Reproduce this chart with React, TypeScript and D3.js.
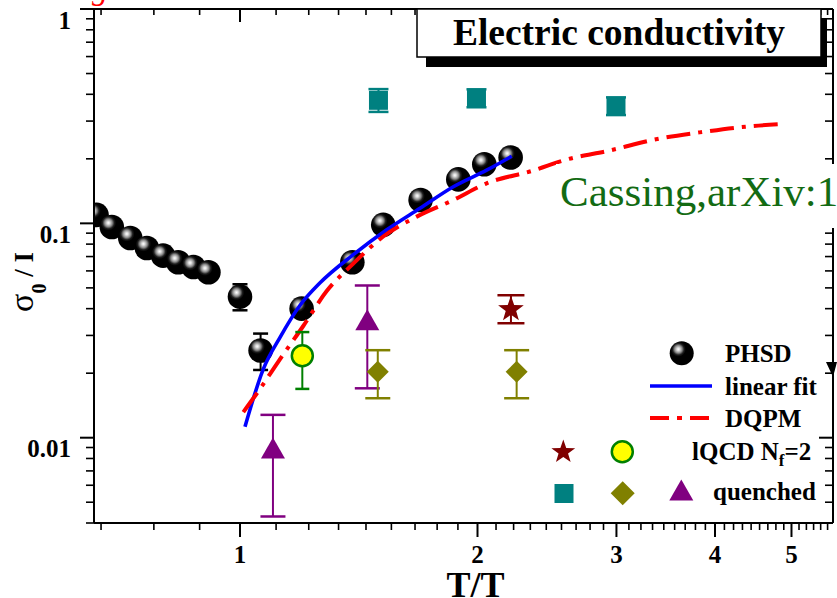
import React from "react";
import * as d3 from "d3";

// ---------- data ----------
// PHSD points: T/Tc and sigma0/T
const phsdT = [0.658, 0.688, 0.726, 0.762, 0.799, 0.835, 0.873, 0.912, 1.0, 1.062, 1.197, 1.388, 1.519, 1.694, 1.891, 2.04, 2.203];
const phsdSigma = [0.1095, 0.0961, 0.0854, 0.0767, 0.0707, 0.0658, 0.0626, 0.0591, 0.0455, 0.0255, 0.04, 0.0658, 0.0984, 0.1285, 0.1603, 0.1888, 0.2028];
const phsdErrLow: (number | null)[] = [null, null, null, null, null, null, null, null, 0.0393, 0.0207, null, null, null, null, null, null, null];
const phsdErrHigh: (number | null)[] = [null, null, null, null, null, null, null, null, 0.052, 0.0306, null, null, null, null, null, null, null];

// linear fit curve
const fitT = [1.0147, 1.0704, 1.124, 1.191, 1.2633, 1.3918, 1.5345, 1.691, 1.8638, 2.054, 2.21];
const fitSigma = [0.01125, 0.0209, 0.0294, 0.0414, 0.0528, 0.0714, 0.0933, 0.1176, 0.1482, 0.177, 0.2056];

// DQPM curve
const dqpmT = [1.0097, 1.0601, 1.118, 1.2028, 1.288, 1.3918, 1.519, 1.675, 1.8638, 2.054, 2.359, 2.582, 2.942, 3.354, 3.861, 4.398, 4.862];
const dqpmSigma = [0.01316, 0.01689, 0.0226, 0.0332, 0.0483, 0.0649, 0.0868, 0.1075, 0.1285, 0.1537, 0.1768, 0.1975, 0.2188, 0.2461, 0.267, 0.2831, 0.2904];

// lQCD Nf=2
const starT = [2.205];
const starSigma = [0.0397];
const starLow = [0.0342];
const starHigh = [0.0462];
const circleT = [1.1995];
const circleSigma = [0.0241];
const circleLow = [0.01689];
const circleHigh = [0.0311];

// quenched
const squareT = [1.498, 1.994, 2.996];
const squareSigma = [0.375, 0.383, 0.352];
const squareLow = [0.331, 0.348, 0.32];
const squareHigh = [0.423, 0.422, 0.387];
const diamondT = [1.495, 2.242];
const diamondSigma = [0.0203, 0.0203];
const diamondLow = [0.01528, 0.01528];
const diamondHigh = [0.0256, 0.0256];
const triangleT = [1.101, 1.45];
const triangleSigma = [0.0088, 0.0349];
const triangleLow = [0.00429, 0.017];
const triangleHigh = [0.01278, 0.0513];

// axes
const xMajorTicks = [1, 2, 3, 4, 5];
const xMajorLabels = ["1", "2", "3", "4", "5"];
const Tc = 180; // MeV, minor ticks every 20 MeV
const xMinorTemps = d3.range(120, 1001, 20).filter((t) => t % 180 !== 0);
const yMajorTicks = [1, 0.1, 0.01];
const yMajorLabels = ["1", "0.1", "0.01"];
const yMinorTicks = [0.9, 0.8, 0.7, 0.6, 0.5, 0.4, 0.3, 0.2, 0.09, 0.08, 0.07, 0.06, 0.05, 0.04, 0.03, 0.02, 0.009, 0.008, 0.007, 0.006, 0.005, 0.004];

const serif = "'Liberation Serif','Times New Roman',Times,serif";

const X0 = 94, X1 = 833, Y0 = 9, Y1 = 523;

function starPath(r: number, ri: number) {
  const pts: string[] = [];
  for (let i = 0; i < 10; i++) {
    const a = -Math.PI / 2 + (i * Math.PI) / 5;
    const rr = i % 2 === 0 ? r : ri;
    pts.push(`${(rr * Math.cos(a)).toFixed(2)},${(rr * Math.sin(a)).toFixed(2)}`);
  }
  return "M" + pts.join("L") + "Z";
}
const diamondPath = (s: number) => `M0,${-s}L${s},0L0,${s}L${-s},0Z`;
const trianglePath = (w: number) => `M0,${-w}L${w},${w * 0.75}L${-w},${w * 0.75}Z`;

export default function App() {
  const x = d3.scaleLog().domain([0.6531, 5.644]).range([X0, X1]);
  const y = d3.scaleLog().domain([0.004, 1]).range([Y1, Y0]);

  const fitLine = d3
    .line<number>()
    .x((_, i) => x(fitT[i]))
    .y((d) => y(d))
    .curve(d3.curveMonotoneX)(fitSigma) as string;
  const dqpmLine = d3
    .line<number>()
    .x((_, i) => x(dqpmT[i]))
    .y((d) => y(d))
    .curve(d3.curveMonotoneX)(dqpmSigma) as string;

  const errBar = (key: string, xv: number, lo: number, hi: number, color: string, cap: number) => (
    <g key={key} stroke={color} strokeWidth={2}>
      <line x1={x(xv)} x2={x(xv)} y1={y(lo)} y2={y(hi)} />
      <line x1={x(xv) - cap / 2} x2={x(xv) + cap / 2} y1={y(lo)} y2={y(lo)} strokeWidth={2.5} />
      <line x1={x(xv) - cap / 2} x2={x(xv) + cap / 2} y1={y(hi)} y2={y(hi)} strokeWidth={2.5} />
    </g>
  );

  return (
    <svg
      width={837}
      height={598}
      style={{ position: "absolute", left: 0, top: 0, display: "block" }}
      fontFamily={serif}
    >
      <defs>
        <radialGradient id="ballGrad" cx="0.36" cy="0.33" r="0.6" fx="0.36" fy="0.33">
          <stop offset="0" stopColor="#ffffff" />
          <stop offset="0.1" stopColor="#dddddd" />
          <stop offset="0.26" stopColor="#8a8a8a" />
          <stop offset="0.4" stopColor="#1e1e1e" />
          <stop offset="0.52" stopColor="#000000" />
          <stop offset="1" stopColor="#000000" />
        </radialGradient>
        <clipPath id="plotClip">
          <rect x={X0} y={Y0} width={X1 - X0} height={Y1 - Y0} />
        </clipPath>
      </defs>
      <rect x={0} y={0} width={837} height={598} fill="#fff" />

      <g clipPath="url(#plotClip)">
        {/* PHSD error bars + balls */}
        {phsdT.map((t, i) =>
          phsdErrLow[i] != null
            ? errBar("pe" + i, t, phsdErrLow[i] as number, phsdErrHigh[i] as number, "#000", 15)
            : null
        )}
        {phsdT.map((t, i) => (
          <circle key={"b" + i} cx={x(t)} cy={y(phsdSigma[i])} r={12.3} fill="url(#ballGrad)" />
        ))}
        {/* curves */}
        <path d={fitLine} fill="none" stroke="#0000ff" strokeWidth={3.6} />
        <path d={dqpmLine} fill="none" stroke="#ff0000" strokeWidth={4} strokeDasharray="24,8,4,8" />

        {/* quenched squares */}
        {squareT.map((t, i) => errBar("se" + i, t, squareLow[i], squareHigh[i], "#008080", 20))}
        {squareT.map((t, i) => (
          <rect key={"sq" + i} x={x(t) - 9.5} y={y(squareSigma[i]) - 9.5} width={19} height={19} fill="#008080" />
        ))}
        {/* triangles */}
        {triangleT.map((t, i) => errBar("te" + i, t, triangleLow[i], triangleHigh[i], "#800080", 25))}
        {triangleT.map((t, i) => (
          <path key={"tr" + i} d={trianglePath(12)} transform={`translate(${x(t)},${y(triangleSigma[i])})`} fill="#800080" />
        ))}
        {/* diamonds */}
        {diamondT.map((t, i) => errBar("de" + i, t, diamondLow[i], diamondHigh[i], "#808000", 25))}
        {diamondT.map((t, i) => (
          <path key={"di" + i} d={diamondPath(11)} transform={`translate(${x(t)},${y(diamondSigma[i])})`} fill="#808000" />
        ))}
        {/* lQCD circle */}
        {circleT.map((t, i) => errBar("ce" + i, t, circleLow[i], circleHigh[i], "#008000", 14))}
        {circleT.map((t, i) => (
          <circle key={"ci" + i} cx={x(t)} cy={y(circleSigma[i])} r={10.5} fill="#ffff00" stroke="#008000" strokeWidth={2.5} />
        ))}
        {/* lQCD star */}
        {starT.map((t, i) => errBar("ste" + i, t, starLow[i], starHigh[i], "#800000", 27))}
        {starT.map((t, i) => (
          <path key={"st" + i} d={starPath(13.5, 5.5)} transform={`translate(${x(t)},${y(starSigma[i])})`} fill="#800000" />
        ))}
      </g>

      {/* axes */}
      <g stroke="#000" fill="none">
        <line x1={X0} x2={X1} y1={Y1} y2={Y1} strokeWidth={2} />
        <line x1={X0} x2={X1} y1={Y0} y2={Y0} strokeWidth={2} />
        <line x1={X0} x2={X0} y1={Y0} y2={Y1} strokeWidth={2} />
        <line x1={X1} x2={X1} y1={Y0} y2={Y1} strokeWidth={2} />
        {xMinorTemps.map((tm) => {
          const px = x(tm / Tc);
          return (
            <g key={"xm" + tm} strokeWidth={1.6}>
              <line x1={px} x2={px} y1={Y1} y2={Y1 + 7} />
              <line x1={px} x2={px} y1={Y0} y2={Y0 + 6} />
            </g>
          );
        })}
        {xMajorTicks.map((t) => (
          <g key={"xM" + t} strokeWidth={2}>
            <line x1={x(t)} x2={x(t)} y1={Y1} y2={Y1 + 14} />
            <line x1={x(t)} x2={x(t)} y1={Y0} y2={Y0 + 13} />
          </g>
        ))}
        {yMinorTicks.map((v) => (
          <g key={"ym" + v} strokeWidth={1.6}>
            <line x1={X0 - 8} x2={X0} y1={y(v)} y2={y(v)} />
            <line x1={X1 - 8} x2={X1} y1={y(v)} y2={y(v)} />
          </g>
        ))}
        {yMajorTicks.map((v) => (
          <g key={"yM" + v} strokeWidth={2}>
            <line x1={X0 - 14} x2={X0} y1={y(v)} y2={y(v)} />
            <line x1={X1 - 14} x2={X1} y1={y(v)} y2={y(v)} />
          </g>
        ))}
      </g>

      {/* reference annotation */}
      <rect x={556} y={164} width={281} height={64} fill="#fff" />
      <text x={560} y={206} fontSize={43} fill="#136b13">
        Cassing,arXiv:1
      </text>
      <path d="M826,362L837,362L833,377Z" fill="#000" />

      {/* title box */}
      <rect x={426} y={18} width={401} height={49} fill="#000" />
      <rect x={417} y={9} width={404} height={48} fill="#fff" stroke="#000" strokeWidth={1.5} />
      <text x={619} y={45} textAnchor="middle" fontSize={37.5} fontWeight="bold" fill="#000">
        Electric conductivity
      </text>

      {/* tick labels */}
      {xMajorTicks.map((t, i) => (
        <text key={"xl" + t} x={x(t)} y={563} textAnchor="middle" fontSize={25} fontWeight="bold">
          {xMajorLabels[i]}
        </text>
      ))}
      {yMajorTicks.map((v, i) => (
        <text key={"yl" + v} x={71} y={y(v) + 19.5} textAnchor="end" fontSize={25} fontWeight="bold">
          {yMajorLabels[i]}
        </text>
      ))}

      {/* axis titles */}
      <text x={475.5} y={597} textAnchor="middle" fontSize={36} fontWeight="bold">
        T/T
      </text>
      <text transform="translate(33,282) rotate(-90)" textAnchor="middle">
        <tspan fontSize={34}>σ</tspan>
        <tspan fontSize={20} fontWeight="bold" dy={13}>0</tspan>
        <tspan fontSize={27} fontWeight="bold" dy={-13}> / I</tspan>
      </text>

      {/* red glyph cut at the top */}
      <text x={92} y={-1} fontSize={32} fontStyle="italic" fill="#ff0000">g</text>

      {/* legend */}
      <circle cx={681.7} cy={353.3} r={12} fill="url(#ballGrad)" />
      <text x={725} y={362} fontSize={25} fontWeight="bold">PHSD</text>
      <line x1={650} x2={712} y1={386} y2={386} stroke="#0000ff" strokeWidth={3.6} />
      <text x={725} y={395} fontSize={25} fontWeight="bold">linear fit</text>
      <line x1={650} x2={712} y1={418} y2={418} stroke="#ff0000" strokeWidth={4} strokeDasharray="19,8,5,8" />
      <text x={725} y={427} fontSize={25} fontWeight="bold">DQPM</text>

      <path d={starPath(12.5, 5)} transform="translate(563.3,452)" fill="#800000" />
      <circle cx={622.3} cy={451.7} r={10.5} fill="#ffff00" stroke="#008000" strokeWidth={2.5} />
      <text x={692} y={460} fontSize={25} fontWeight="bold">
        <tspan>lQCD N</tspan>
        <tspan fontSize={17} dy={6}>f</tspan>
        <tspan dy={-6}>=2</tspan>
      </text>

      <rect x={554.5} y={484} width={19} height={19} fill="#008080" />
      <path d={diamondPath(12)} transform="translate(622.7,493.3)" fill="#808000" />
      <path d={trianglePath(12)} transform="translate(681.3,491.5)" fill="#800080" />
      <text x={713} y={500} fontSize={25} fontWeight="bold">quenched</text>
    </svg>
  );
}
